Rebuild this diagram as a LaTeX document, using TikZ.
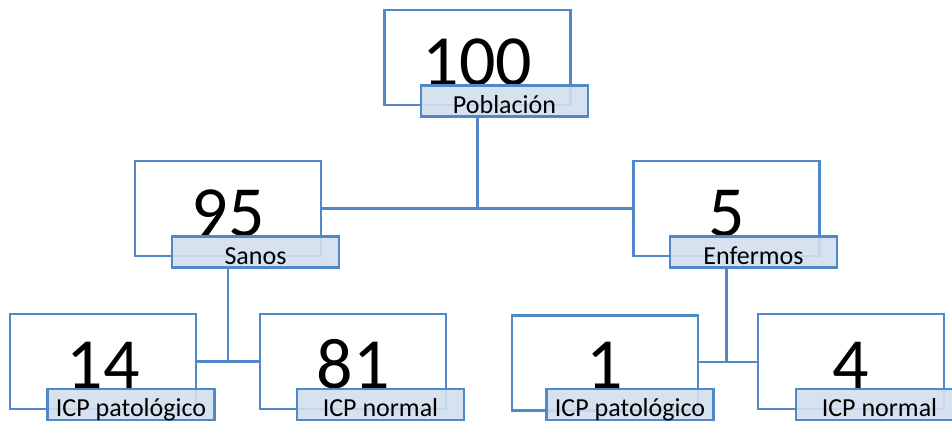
\documentclass[tikz,border=0pt]{standalone}
\usepackage{fontspec}
\setmainfont{Carlito}
\definecolor{edge}{HTML}{5088C8}
\definecolor{lab}{HTML}{D3DFEE}
\begin{document}
\begin{tikzpicture}[x=1pt,y=-1pt,
  bigbox/.style={draw=edge,line width=2.4pt,fill=white,minimum width=186pt,minimum height=95pt,inner sep=0pt},
  labbox/.style={draw=edge,line width=2.4pt,fill=lab,fill opacity=0.9,text opacity=1,minimum width=167pt,minimum height=31pt,inner sep=0pt,text height=26pt,text depth=1.5pt,font=\fontsize{26}{28}\selectfont},
  num/.style={anchor=base,inner sep=0pt,font=\fontsize{72}{74}\selectfont},
  conn/.style={draw=edge,line width=2.4pt}]
\useasboundingbox (0,0) rectangle (952,421);
% boxes
\node[bigbox] (b100) at (477.5,57.5) {};
\node[bigbox] (b95) at (228,208.5) {};
\node[bigbox] (b5) at (726.5,208.5) {};
\node[bigbox] (b14) at (103,361.5) {};
\node[bigbox] (b81) at (353,361.5) {};
\node[bigbox] (b1) at (605,363) {};
\node[bigbox] (b4) at (851,361.5) {};
% connectors
\draw[conn] (b100.center |- 0,116) coordinate (c0) -- (c0 |- b95.east);
\draw[conn] (b95.east) -- (b5.west);
\draw[conn] (b95.center |- 0,268) coordinate (c1) -- (c1 |- b14.east);
\draw[conn] (b14.east) -- (b81.west);
\draw[conn] (b5.center |- 0,268) coordinate (c2) -- (c2 |- 0,362) coordinate (c3);
\draw[conn] (b1.east |- c3) -- (b4.west |- c3);
% numbers
\node[num] (n100) at (477.5,85) {100};
\node[num] (n95) at (228,236) {95};
\node[num] (n5) at (726.5,236) {5};
\node[num] (n14) at (103,388) {14};
\node[num] (n81) at (353,388) {81};
\node[num] (n1) at (605,388) {1};
\node[num] (n4) at (851,388) {4};
% labels
\node[labbox] (l100) at (504.5,101) {Población};
\node[labbox] (l95) at (255.5,252) {Sanos};
\node[labbox] (l5) at (753.5,252) {Enfermos};
\node[labbox] (l14) at (131,404.5) {ICP patológico};
\node[labbox] (l81) at (380.5,404.5) {ICP normal};
\node[labbox] (l1) at (630,404.5) {ICP patológico};
\node[labbox] (l4) at (879.5,404.5) {ICP normal};
\end{tikzpicture}
\end{document}
